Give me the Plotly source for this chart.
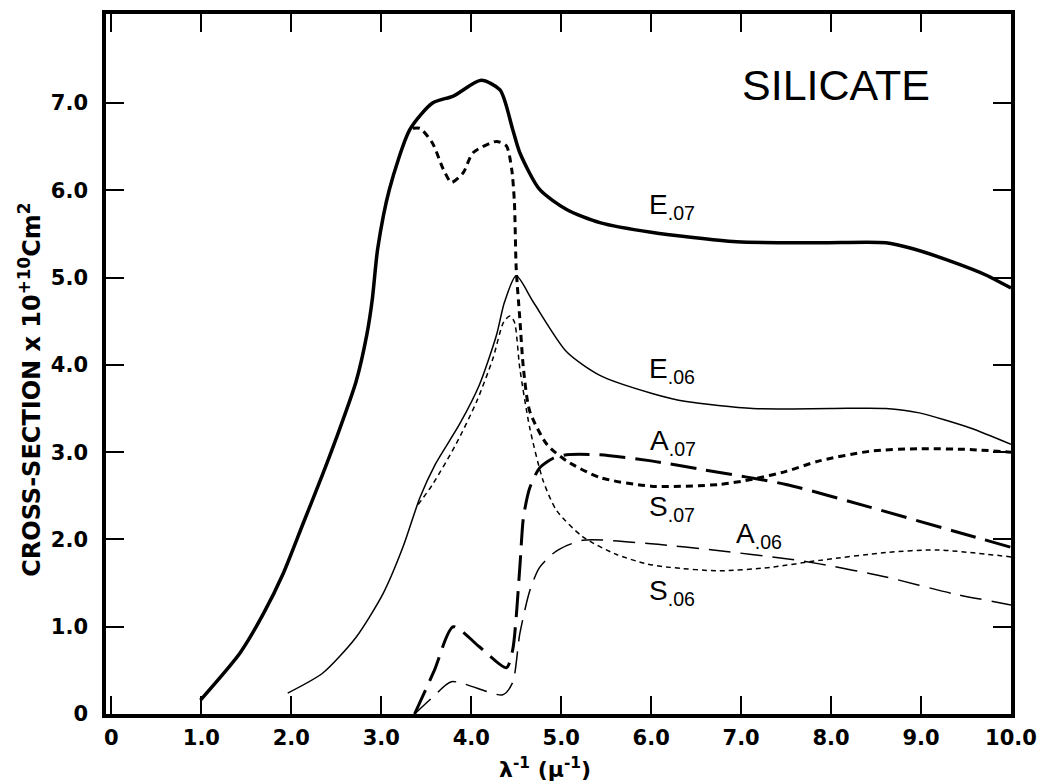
import plotly.graph_objects as go

# ---- data ----
E07_x = [0.99, 1.43, 1.69, 1.91, 2.13, 2.35, 2.50, 2.72, 2.84, 2.90, 2.96, 3.09, 3.32, 3.57, 3.80, 4.11, 4.32, 4.46, 4.54, 4.76, 5.06, 5.43, 6.00, 6.95, 7.87, 8.61, 8.91, 9.35, 9.72, 10.0]
E07_y = [0.16, 0.70, 1.15, 1.61, 2.18, 2.75, 3.16, 3.81, 4.35, 4.75, 5.33, 6.01, 6.70, 7.00, 7.08, 7.26, 7.15, 6.70, 6.43, 6.01, 5.78, 5.63, 5.52, 5.41, 5.40, 5.40, 5.33, 5.18, 5.03, 4.88]

E06_x = [1.96, 2.35, 2.72, 3.02, 3.24, 3.43, 3.60, 3.87, 4.09, 4.28, 4.37, 4.50, 4.69, 5.06, 5.43, 6.02, 6.39, 7.13, 8.00, 8.61, 8.98, 9.54, 10.0]
E06_y = [0.24, 0.47, 0.88, 1.38, 1.91, 2.48, 2.86, 3.32, 3.77, 4.34, 4.72, 5.02, 4.72, 4.15, 3.88, 3.67, 3.58, 3.50, 3.50, 3.50, 3.45, 3.28, 3.09]

S07_x = [3.35, 3.43, 3.57, 3.69, 3.78, 3.91, 4.02, 4.28, 4.39, 4.45, 4.48, 4.50, 4.54, 4.58, 4.65, 4.84, 5.06, 5.43, 6.00, 6.76, 7.13, 7.50, 7.87, 8.43, 8.98, 9.54, 10.0]
S07_y = [6.71, 6.71, 6.54, 6.24, 6.09, 6.20, 6.43, 6.56, 6.51, 6.24, 5.86, 5.10, 4.53, 3.96, 3.47, 3.09, 2.90, 2.71, 2.61, 2.63, 2.69, 2.78, 2.90, 3.01, 3.04, 3.03, 3.00]

S06_x = [3.41, 3.57, 3.83, 4.06, 4.24, 4.36, 4.43, 4.48, 4.54, 4.65, 4.80, 4.95, 5.24, 5.61, 5.95, 6.21, 6.76, 7.32, 7.87, 8.61, 9.17, 10.0]
S06_y = [2.40, 2.63, 3.09, 3.58, 4.07, 4.49, 4.56, 4.49, 3.96, 3.28, 2.67, 2.33, 2.03, 1.83, 1.72, 1.68, 1.64, 1.68, 1.76, 1.85, 1.88, 1.80]

A07_x = [3.37, 3.59, 3.80, 4.09, 4.39, 4.46, 4.54, 4.58, 4.65, 4.76, 4.91, 5.06, 5.43, 6.00, 6.57, 7.50, 8.43, 9.35, 10.0]
A07_y = [0.00, 0.50, 1.00, 0.77, 0.53, 0.73, 1.68, 2.25, 2.59, 2.82, 2.93, 2.97, 2.97, 2.90, 2.80, 2.63, 2.37, 2.10, 1.91]

A06_x = [3.37, 3.58, 3.78, 4.35, 4.46, 4.54, 4.65, 4.76, 4.95, 5.24, 6.00, 6.76, 7.50, 7.87, 8.61, 9.35, 10.0]
A06_y = [0.00, 0.20, 0.37, 0.22, 0.36, 0.92, 1.41, 1.68, 1.87, 1.99, 1.95, 1.87, 1.78, 1.72, 1.57, 1.38, 1.25]

x_ticks = [0, 1, 2, 3, 4, 5, 6, 7, 8, 9, 10]
x_tick_labels = ["0", "1.0", "2.0", "3.0", "4.0", "5.0", "6.0", "7.0", "8.0", "9.0", "10.0"]
y_ticks = [0, 1, 2, 3, 4, 5, 6, 7]
y_tick_labels = ["0", "1.0", "2.0", "3.0", "4.0", "5.0", "6.0", "7.0"]

curve_labels = [
    ("E<sub>.07</sub>", 5.95, 5.81),
    ("E<sub>.06</sub>", 5.95, 3.94),
    ("A<sub>.07</sub>", 5.96, 3.11),
    ("S<sub>.07</sub>", 5.95, 2.35),
    ("A<sub>.06</sub>", 6.92, 2.05),
    ("S<sub>.06</sub>", 5.95, 1.39),
]

# ---- figure ----
fig = go.Figure()

def add(xs, ys, width, dash):
    fig.add_trace(go.Scatter(x=xs, y=ys, mode="lines",
                             line=dict(color="black", width=width, dash=dash,
                                       shape="spline", smoothing=0.7),
                             showlegend=False, hoverinfo="skip"))

add(E07_x, E07_y, 3.5, "solid")
add(E06_x, E06_y, 1.5, "solid")
add(S07_x, S07_y, 3.0, "7px,5px")
add(S06_x, S06_y, 1.5, "5px,4px")
add(A07_x, A07_y, 3.0, "26px,10px")
add(A06_x, A06_y, 1.5, "22px,10px")

tickfont = dict(family="DejaVu Sans", size=21, color="black", weight="bold")

fig.update_xaxes(range=[-0.06, 10.0], tickvals=x_ticks, ticktext=x_tick_labels,
                 ticks="inside", ticklen=18, tickwidth=2, tickcolor="black",
                 showline=True, linewidth=3.5, linecolor="black", mirror="ticks",
                 showgrid=False, zeroline=False, tickfont=tickfont,
                 ticklabelstandoff=2)
fig.update_yaxes(range=[0, 8.02], tickvals=y_ticks, ticktext=y_tick_labels,
                 ticks="inside", ticklen=18, tickwidth=2, tickcolor="black",
                 showline=True, linewidth=3.5, linecolor="black", mirror="ticks",
                 showgrid=False, zeroline=False, tickfont=tickfont,
                 ticklabelstandoff=10)

annotations = []
for txt, x, y in curve_labels:
    annotations.append(dict(text=txt, x=x, y=y, xref="x", yref="y",
                            xanchor="left", yanchor="middle", showarrow=False,
                            font=dict(family="Liberation Sans", size=28, color="black")))
annotations.append(dict(text="SILICATE", x=8.05, y=7.21, xref="x", yref="y",
                        xanchor="center", yanchor="middle", showarrow=False,
                        font=dict(family="Liberation Sans", size=43, color="black")))
annotations.append(dict(text="CROSS-SECTION x 10<sup>+10</sup>Cm<sup>2</sup>",
                        x=30, y=388, xref="paper", yref="paper", showarrow=False,
                        textangle=-90, xanchor="center", yanchor="middle",
                        font=dict(family="DejaVu Sans", size=24, color="black", weight="bold")))
annotations.append(dict(text="λ<sup>-1</sup> (μ<sup>-1</sup>)",
                        x=545, y=768, xref="paper", yref="paper", showarrow=False,
                        xanchor="center", yanchor="middle",
                        font=dict(family="DejaVu Sans", size=22, color="black", weight="bold")))

# convert pixel positions of the axis titles into paper coordinates
W, H = 1047, 784
ml, mr, mt, mb = 106, 36, 10, 70
pw, ph = W - ml - mr, H - mt - mb
for a in annotations[-2:]:
    a["x"] = (a["x"] - ml) / pw
    a["y"] = (H - mb - a["y"]) / ph

fig.update_layout(width=W, height=H, margin=dict(l=ml, r=mr, t=mt, b=mb),
                  plot_bgcolor="white", paper_bgcolor="white",
                  annotations=annotations)

# remove the browser's default page margin so the figure fills the window exactly
fig.write_html("out.html",
               config={"displayModeBar": False},
               post_script="document.body.style.margin='0';document.body.style.overflow='hidden';")
